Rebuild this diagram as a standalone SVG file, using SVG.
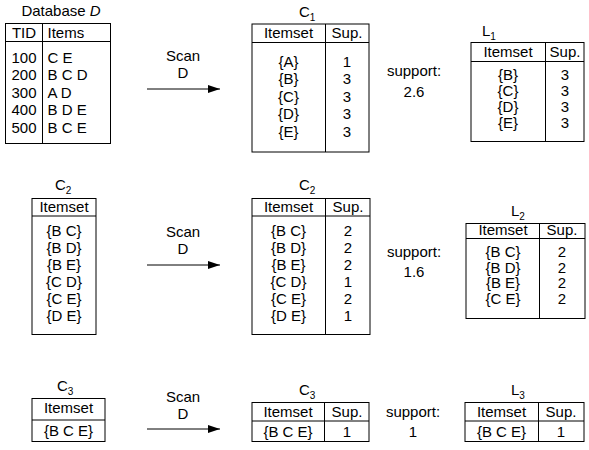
<svg xmlns="http://www.w3.org/2000/svg" width="589" height="450" viewBox="0 0 589 450">
  <style>
    text { font-family: "Liberation Sans", Arial, Helvetica, sans-serif; font-size: 15px; fill: #000; }
    .m { text-anchor: middle; }
    .sub { font-size: 10px; }
    .box { fill: #fff; stroke: #000; stroke-width: 1; }
    .ln { fill: none; stroke: #000; stroke-width: 1; }
    .arrow { fill: none; stroke: #000; stroke-width: 1; marker-end: url(#head); }
  </style>
  <defs>
    <marker id="head" viewBox="0 0 12 8" refX="12" refY="4" markerWidth="12" markerHeight="8" markerUnits="userSpaceOnUse" orient="auto">
      <path d="M0,0 L12,4 L0,8 Z" fill="#000"/>
    </marker>
  </defs>

  <rect width="589" height="450" fill="#fff"/>

  <!-- Transaction database -->
  <g id="database">
    <text class="m" x="61" y="16">Database <tspan font-style="italic">D</tspan></text>
    <rect class="box" x="5.5" y="23.5" width="105" height="120"/>
    <line class="ln" x1="5.5" y1="41.5" x2="110.5" y2="41.5"/>
    <line class="ln" x1="42.5" y1="23.5" x2="42.5" y2="143.5"/>
    <text class="m" x="24" y="37.5">TID</text>
    <text x="47.5" y="37.5">Items</text>
    <text x="11.5" y="62.5">100</text><text x="47.5" y="62.5">C E</text>
    <text x="11.5" y="80">200</text><text x="47.5" y="80">B C D</text>
    <text x="11.5" y="97.5">300</text><text x="47.5" y="97.5">A D</text>
    <text x="11.5" y="115">400</text><text x="47.5" y="115">B D E</text>
    <text x="11.5" y="132.5">500</text><text x="47.5" y="132.5">B C E</text>
  </g>

  <!-- C1: candidate 1-itemsets with counts -->
  <g id="c1">
    <text x="299" y="17">C<tspan class="sub" dy="4">1</tspan></text>
    <rect class="box" x="252" y="24" width="117" height="128"/>
    <line class="ln" x1="252" y1="42.5" x2="369" y2="42.5"/>
    <line class="ln" x1="325.5" y1="24" x2="325.5" y2="152"/>
    <text class="m" x="288.5" y="38">Itemset</text>
    <text class="m" x="347" y="38">Sup.</text>
    <text class="m" x="288.5" y="66.5">{A}</text><text class="m" x="347" y="66.5">1</text>
    <text class="m" x="288.5" y="84">{B}</text><text class="m" x="347" y="84">3</text>
    <text class="m" x="288.5" y="101.5">{C}</text><text class="m" x="347" y="101.5">3</text>
    <text class="m" x="288.5" y="119">{D}</text><text class="m" x="347" y="119">3</text>
    <text class="m" x="288.5" y="136.5">{E}</text><text class="m" x="347" y="136.5">3</text>
  </g>

  <text class="m" x="414" y="76">support:</text>
  <text class="m" x="414" y="97">2.6</text>

  <!-- L1: frequent 1-itemsets -->
  <g id="l1">
    <text x="482" y="36">L<tspan class="sub" dy="4">1</tspan></text>
    <rect class="box" x="471" y="42.5" width="113" height="99"/>
    <line class="ln" x1="471" y1="61.5" x2="584" y2="61.5"/>
    <line class="ln" x1="545.5" y1="42.5" x2="545.5" y2="141.5"/>
    <text class="m" x="508" y="57">Itemset</text>
    <text class="m" x="565" y="57">Sup.</text>
    <text class="m" x="508" y="80">{B}</text><text class="m" x="565" y="80">3</text>
    <text class="m" x="508" y="96">{C}</text><text class="m" x="565" y="96">3</text>
    <text class="m" x="508" y="112">{D}</text><text class="m" x="565" y="112">3</text>
    <text class="m" x="508" y="128">{E}</text><text class="m" x="565" y="128">3</text>
  </g>

  <!-- C2: candidate 2-itemsets -->
  <g id="c2-candidates">
    <text x="55" y="190">C<tspan class="sub" dy="4">2</tspan></text>
    <rect class="box" x="32" y="198.5" width="64" height="136"/>
    <line class="ln" x1="32" y1="216" x2="96" y2="216"/>
    <text class="m" x="64" y="211.5">Itemset</text>
    <text class="m" x="64" y="236">{B C}</text>
    <text class="m" x="64" y="253">{B D}</text>
    <text class="m" x="64" y="270">{B E}</text>
    <text class="m" x="64" y="287">{C D}</text>
    <text class="m" x="64" y="304">{C E}</text>
    <text class="m" x="64" y="321">{D E}</text>
  </g>

  <!-- C2 with counts -->
  <g id="c2-counts">
    <text x="299" y="190">C<tspan class="sub" dy="4">2</tspan></text>
    <rect class="box" x="252" y="198.5" width="118" height="136"/>
    <line class="ln" x1="252" y1="216" x2="370" y2="216"/>
    <line class="ln" x1="325.5" y1="198.5" x2="325.5" y2="334.5"/>
    <text class="m" x="288.5" y="211.5">Itemset</text>
    <text class="m" x="348" y="211.5">Sup.</text>
    <text class="m" x="288.5" y="236">{B C}</text><text class="m" x="348" y="236">2</text>
    <text class="m" x="288.5" y="253">{B D}</text><text class="m" x="348" y="253">2</text>
    <text class="m" x="288.5" y="270">{B E}</text><text class="m" x="348" y="270">2</text>
    <text class="m" x="288.5" y="287">{C D}</text><text class="m" x="348" y="287">1</text>
    <text class="m" x="288.5" y="304">{C E}</text><text class="m" x="348" y="304">2</text>
    <text class="m" x="288.5" y="321">{D E}</text><text class="m" x="348" y="321">1</text>
  </g>

  <text class="m" x="414" y="257">support:</text>
  <text class="m" x="414" y="277">1.6</text>

  <!-- L2: frequent 2-itemsets -->
  <g id="l2">
    <text x="511" y="216">L<tspan class="sub" dy="4">2</tspan></text>
    <rect class="box" x="466" y="223.5" width="119" height="95"/>
    <line class="ln" x1="466" y1="238.5" x2="585" y2="238.5"/>
    <line class="ln" x1="539.5" y1="223.5" x2="539.5" y2="318.5"/>
    <text class="m" x="503" y="235">Itemset</text>
    <text class="m" x="562" y="235">Sup.</text>
    <text class="m" x="503" y="257">{B C}</text><text class="m" x="562" y="257">2</text>
    <text class="m" x="503" y="272.5">{B D}</text><text class="m" x="562" y="272.5">2</text>
    <text class="m" x="503" y="288">{B E}</text><text class="m" x="562" y="288">2</text>
    <text class="m" x="503" y="303.5">{C E}</text><text class="m" x="562" y="303.5">2</text>
  </g>

  <!-- C3: candidate 3-itemsets -->
  <g id="c3-candidates">
    <text x="57" y="391">C<tspan class="sub" dy="4">3</tspan></text>
    <rect class="box" x="32" y="398.5" width="73" height="43"/>
    <line class="ln" x1="32" y1="420" x2="105" y2="420"/>
    <text class="m" x="68.5" y="413">Itemset</text>
    <text class="m" x="68.5" y="435.5">{B C E}</text>
  </g>

  <!-- C3 with counts -->
  <g id="c3-counts">
    <text x="299" y="395">C<tspan class="sub" dy="4">3</tspan></text>
    <rect class="box" x="252" y="402.5" width="117" height="39"/>
    <line class="ln" x1="252" y1="421" x2="369" y2="421"/>
    <line class="ln" x1="324.5" y1="402.5" x2="324.5" y2="441.5"/>
    <text class="m" x="288" y="416.5">Itemset</text>
    <text class="m" x="347" y="416.5">Sup.</text>
    <text class="m" x="288" y="437">{B C E}</text>
    <text class="m" x="347" y="437">1</text>
  </g>

  <text class="m" x="413" y="417">support:</text>
  <text class="m" x="413" y="437">1</text>

  <!-- L3: frequent 3-itemsets -->
  <g id="l3">
    <text x="511" y="395">L<tspan class="sub" dy="4">3</tspan></text>
    <rect class="box" x="465" y="402.5" width="119" height="39"/>
    <line class="ln" x1="465" y1="421" x2="584" y2="421"/>
    <line class="ln" x1="538.5" y1="402.5" x2="538.5" y2="441.5"/>
    <text class="m" x="501.5" y="416.5">Itemset</text>
    <text class="m" x="561" y="416.5">Sup.</text>
    <text class="m" x="501.5" y="437">{B C E}</text>
    <text class="m" x="561" y="437">1</text>
  </g>

  <!-- Scan D connectors -->
  <g id="connectors">
    <line class="arrow" x1="147" y1="89" x2="220" y2="89"/>
    <text class="m" x="183" y="61">Scan</text>
    <text class="m" x="183" y="78">D</text>

    <line class="arrow" x1="147" y1="265" x2="220" y2="265"/>
    <text class="m" x="183" y="237">Scan</text>
    <text class="m" x="183" y="254">D</text>

    <line class="arrow" x1="147" y1="429" x2="220" y2="429"/>
    <text class="m" x="183" y="402">Scan</text>
    <text class="m" x="183" y="419">D</text>
  </g>
</svg>
